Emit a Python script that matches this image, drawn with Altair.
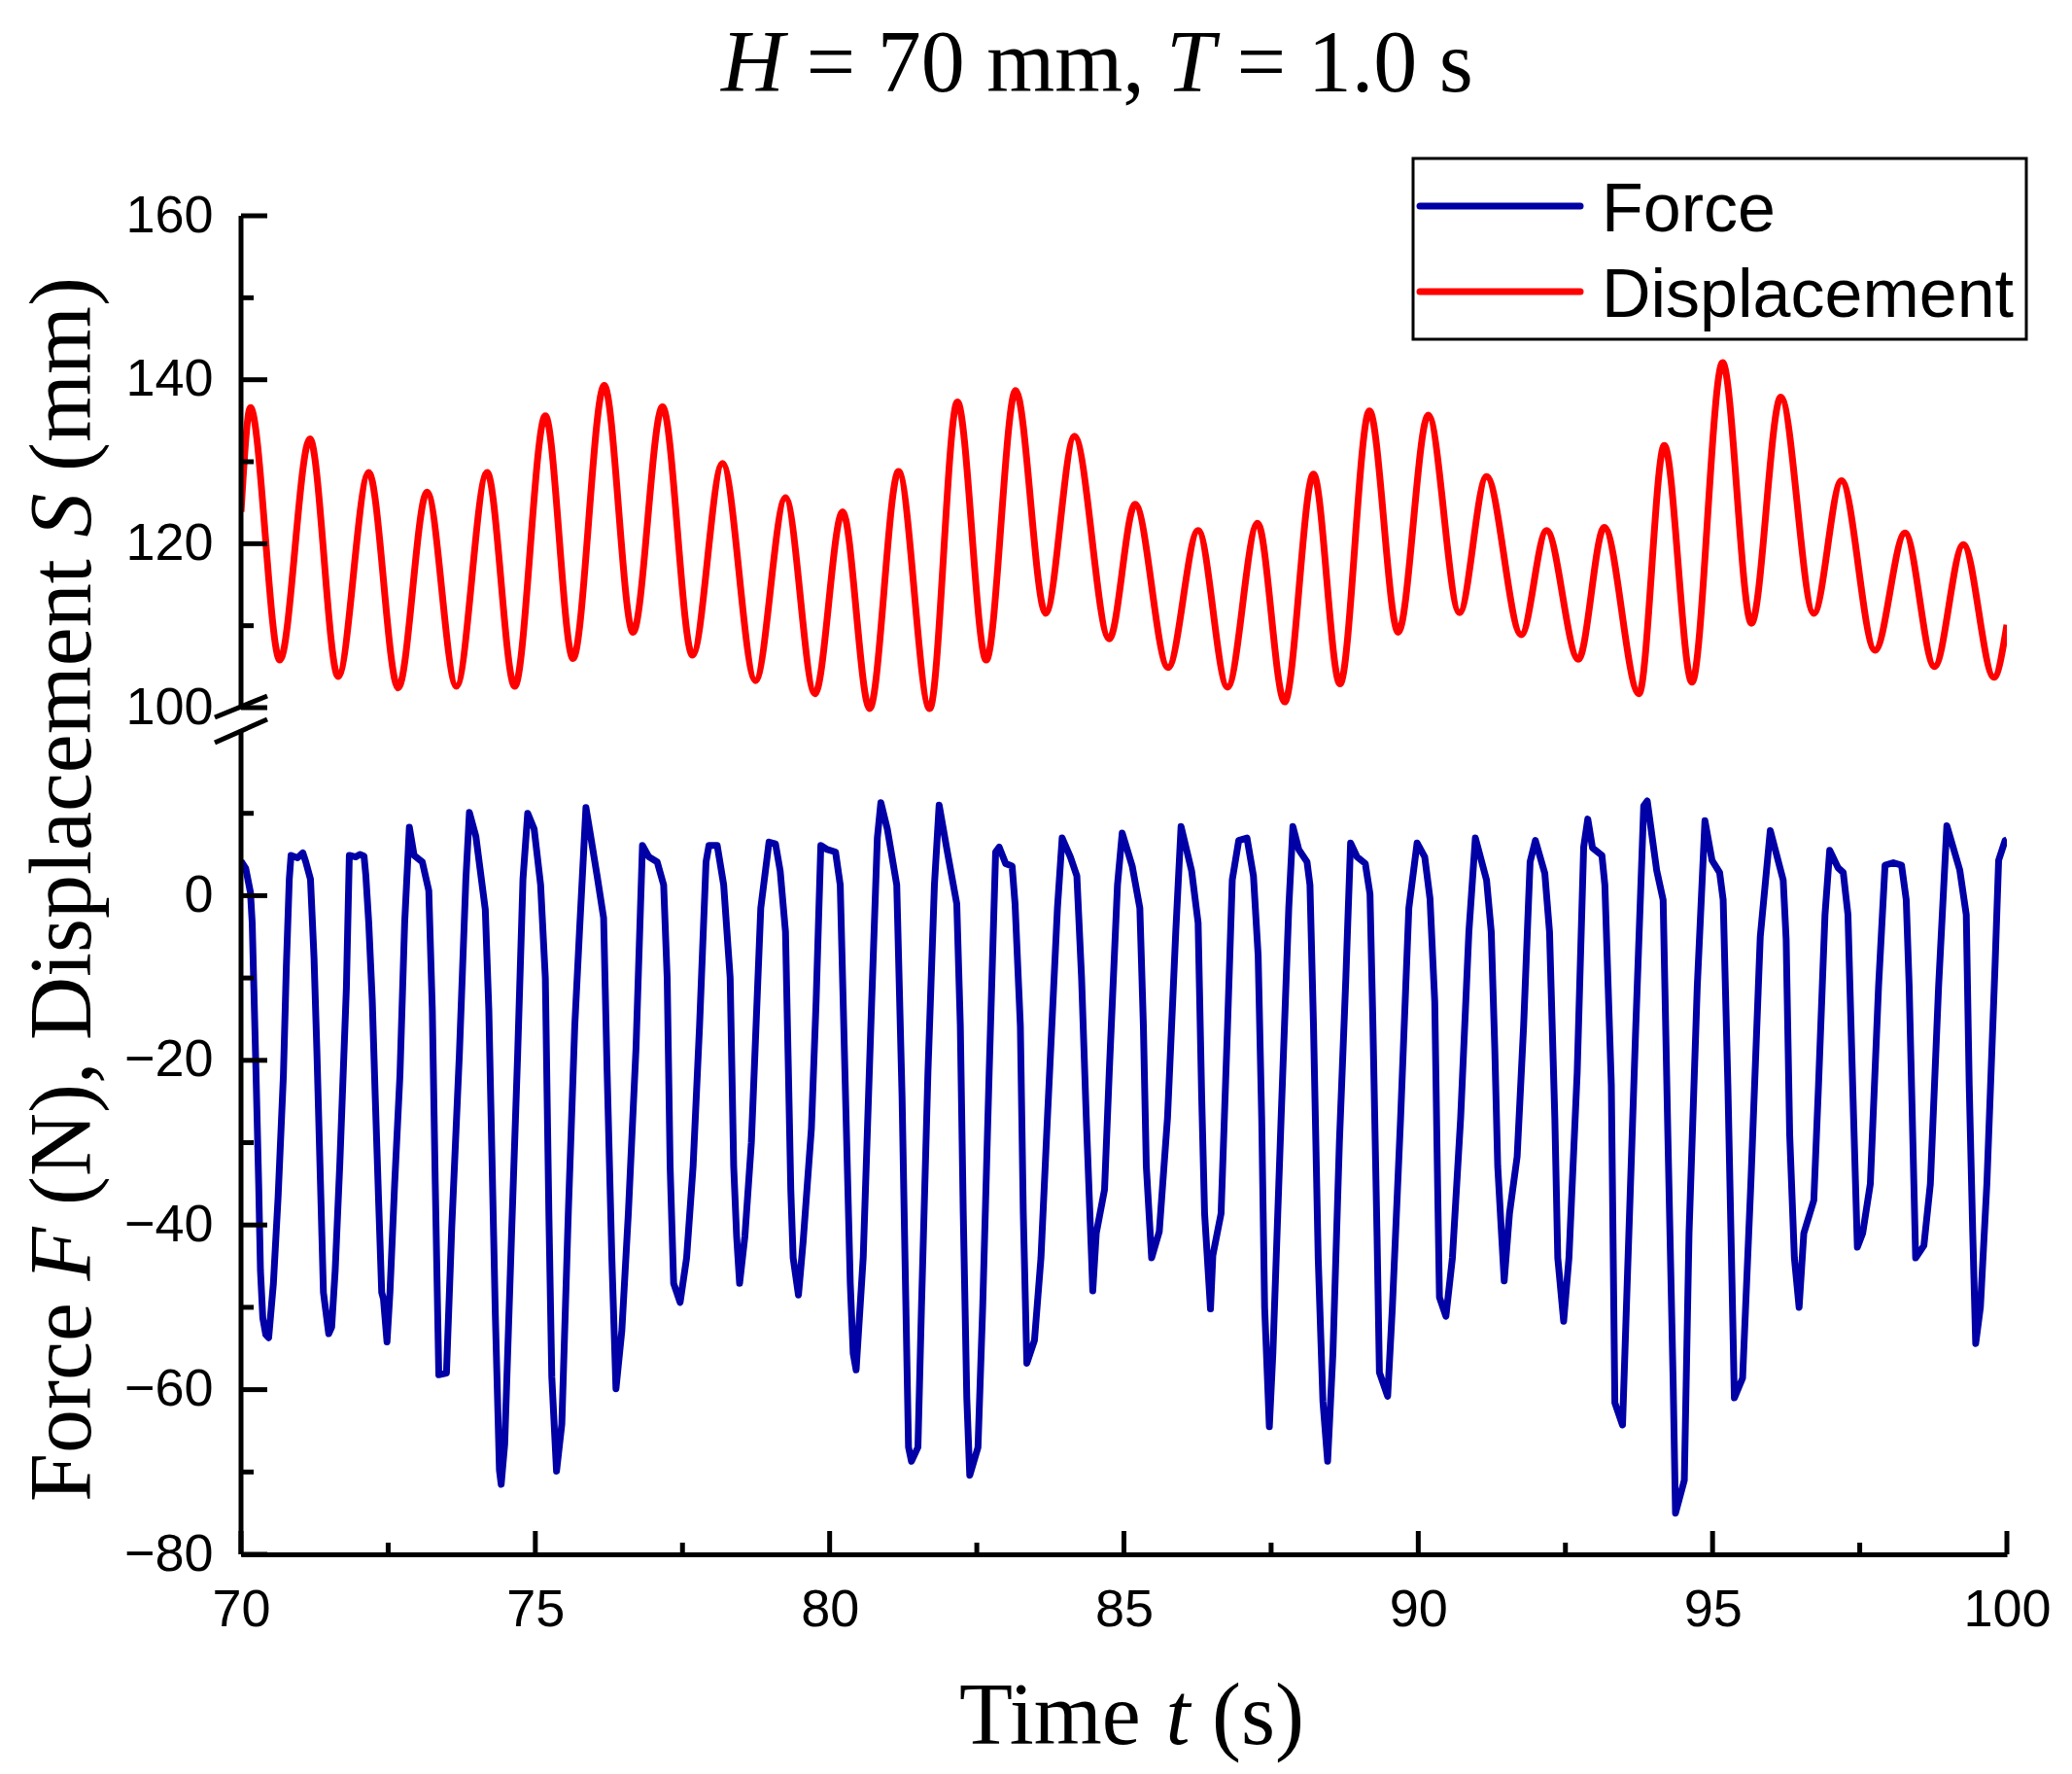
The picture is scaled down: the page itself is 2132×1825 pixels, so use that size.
import altair as alt
import pandas as pd

# ---------------- data ----------------
force_time = [
    70.00, 70.08, 70.16, 70.19, 70.25, 70.30, 70.33, 70.37, 70.42, 70.47, 70.55, 70.63, 70.72, 70.77, 70.82,
    70.85, 70.96, 71.05, 71.10, 71.18, 71.24, 71.29, 71.35, 71.40, 71.49, 71.54, 71.60, 71.68, 71.79,
    71.84, 71.95, 72.02, 72.09, 72.12, 72.17, 72.23, 72.28, 72.34, 72.39, 72.42, 72.48, 72.53, 72.61, 72.70, 72.78,
    72.86, 72.94, 73.08, 73.19, 73.25, 73.30, 73.36, 73.49, 73.58, 73.71, 73.82,
    73.88, 73.99, 74.15, 74.21, 74.32, 74.39, 74.42, 74.48, 74.60, 74.70, 74.79,
    74.87, 74.98, 75.09, 75.17, 75.23, 75.28, 75.36, 75.45, 75.56, 75.67, 75.75,
    75.86, 75.92, 76.05, 76.16, 76.22, 76.30, 76.37, 76.47, 76.58, 76.71,
    76.82, 76.93, 77.07, 77.18, 77.24, 77.29, 77.35, 77.46, 77.57, 77.68, 77.79, 77.90,
    77.95, 78.09, 78.20, 78.31, 78.37, 78.42, 78.47, 78.56, 78.67, 78.83,
    78.97, 79.08, 79.16, 79.25, 79.30, 79.34, 79.38, 79.47, 79.55, 79.69, 79.77,
    79.85, 79.96, 80.10, 80.18, 80.26, 80.35, 80.40, 80.45, 80.57, 80.70,
    80.81, 80.87, 80.98, 81.14, 81.23, 81.28, 81.34, 81.39, 81.50, 81.56, 81.67, 81.78,
    81.86, 82.00, 82.16, 82.22, 82.27, 82.33, 82.38, 82.52, 82.60, 82.71,
    82.82, 82.88, 82.99, 83.10, 83.15, 83.24, 83.29, 83.35, 83.48, 83.59, 83.70, 83.87,
    83.95, 84.09, 84.20, 84.28, 84.36, 84.45, 84.47, 84.53, 84.67, 84.75, 84.89,
    84.97, 85.14, 85.27, 85.33, 85.38, 85.47, 85.60, 85.74, 85.88,
    85.97, 86.15, 86.26, 86.32, 86.37, 86.47, 86.51, 86.65, 86.76, 86.84,
    86.95, 87.09, 87.20, 87.28, 87.34, 87.39, 87.47, 87.53, 87.67, 87.80,
    87.87, 87.97, 88.11, 88.16, 88.22, 88.30, 88.38, 88.46, 88.55, 88.66, 88.77,
    88.85, 88.96, 89.10, 89.18, 89.23, 89.30, 89.34, 89.48, 89.56, 89.70, 89.84,
    89.98, 90.11, 90.20, 90.28, 90.33, 90.36, 90.47, 90.58, 90.72, 90.86,
    90.97, 91.16, 91.24, 91.30, 91.35, 91.46, 91.55, 91.68, 91.79, 91.90,
    91.99, 92.15, 92.23, 92.32, 92.37, 92.47, 92.56, 92.70, 92.81,
    92.88, 92.96, 93.12, 93.17, 93.28, 93.34, 93.47, 93.55, 93.69,
    93.83, 93.89, 94.05, 94.16, 94.24, 94.33, 94.37, 94.52, 94.60, 94.74,
    94.87, 94.99, 95.12, 95.18, 95.26, 95.33, 95.37, 95.51, 95.65, 95.81,
    95.98, 96.20, 96.25, 96.31, 96.39, 96.47, 96.55, 96.72, 96.80, 96.91,
    96.99, 97.13, 97.22, 97.30, 97.38, 97.46, 97.55, 97.68, 97.82,
    97.93, 98.07, 98.21, 98.29, 98.34, 98.45, 98.59, 98.70, 98.84,
    98.98, 99.20, 99.31, 99.36, 99.42, 99.47, 99.55, 99.66, 99.80, 99.86, 99.97, 100.00,
]
force_value = [
    4.2, 3.3, 0.4, -3.3, -20.2, -35.0, -45.5, -51.3, -53.3, -53.7, -47.1, -36.6, -21.8, -8.6, 2.0,
    4.9, 4.6, 5.2, 4.1, 2.0, -7.5, -19.2, -35.0, -48.2, -53.2, -52.4, -45.5, -32.3, -11.2,
    4.9, 4.7, 5.0, 4.8, 2.5, -3.3, -12.8, -24.4, -37.6, -48.2, -49.0, -54.2, -48.2, -35.0, -21.8, -3.3,
    8.3, 4.9, 4.1, 0.6, -13.9, -35.0, -58.2, -58.0, -40.3, -19.2, 2.0,
    10.1, 7.2, -1.7, -13.9, -50.8, -69.8, -71.5, -66.6, -40.3, -19.2, 2.0,
    10.0, 8.1, 1.3, -10.0, -38.6, -58.5, -69.9, -64.2, -38.6, -15.8, -4.4,
    10.7, 8.1, 2.4, -2.7, -21.5, -44.0, -59.9, -52.8, -38.6, -18.6,
    6.1, 4.7, 4.1, 1.3, -10.0, -32.9, -47.1, -49.4, -44.0, -32.9, -15.8, 4.1,
    6.1, 6.1, 1.3, -10.0, -32.9, -41.4, -47.1, -41.4, -30.0, -1.5,
    6.5, 6.3, 3.0, -4.4, -21.5, -35.7, -44.0, -48.5, -42.0, -28.3, -12.9,
    6.1, 5.6, 5.3, 1.3, -21.5, -47.0, -55.6, -57.6, -44.0, -15.8,
    7.0, 11.3, 8.1, 1.3, -24.3, -44.0, -67.0, -68.7, -67.0, -50.0, -21.5, 1.3,
    11.0, 5.3, -1.0, -15.8, -38.6, -61.0, -70.4, -67.0, -50.0, -21.5,
    5.3, 5.9, 3.9, 3.6, -1.0, -15.8, -38.6, -56.8, -54.0, -44.0, -27.0, -1.5,
    7.0, 4.7, 2.4, -10.0, -27.0, -44.0, -48.0, -41.0, -35.7, -21.5, 1.3,
    7.6, 3.6, -1.5, -15.8, -32.9, -44.0, -40.8, -27.0, -4.4,
    8.4, 3.0, -3.3, -24.3, -38.6, -50.2, -43.7, -38.6, -15.8, 1.9,
    6.7, 7.0, 2.4, -7.3, -27.0, -50.0, -64.5, -55.6, -27.0, -1.5,
    8.4, 5.6, 4.1, 1.3, -15.8, -44.0, -61.4, -68.7, -55.6, -30.0, -10.0,
    6.4, 4.7, 3.9, 0.2, -15.8, -41.4, -57.9, -60.8, -50.0, -27.0, -1.5,
    6.4, 4.7, -0.4, -12.9, -35.7, -48.8, -51.1, -44.0, -27.0, -4.4,
    7.0, 1.9, -4.4, -18.6, -32.9, -46.8, -38.6, -31.7, -15.8, 4.1,
    6.7, 2.7, -4.4, -27.0, -44.0, -51.7, -44.0, -21.5, 5.9,
    9.3, 5.8, 4.9, 1.3, -23.0, -61.6, -64.3, -47.0, -17.0,
    10.9, 11.5, 3.1, -0.5, -29.0, -59.0, -75.0, -71.0, -41.0, -11.0,
    9.1, 4.3, 2.8, -0.5, -23.0, -47.0, -61.0, -58.6, -35.0, -5.0,
    7.9, 1.9, -5.3, -29.0, -44.0, -50.0, -41.0, -37.0, -23.0, -2.3,
    5.5, 3.4, 2.8, -2.3, -23.0, -42.7, -41.0, -35.0, -11.0,
    3.7, 4.0, 3.7, -0.5, -11.0, -44.0, -42.5, -35.0, -11.0,
    8.5, 3.1, -2.3, -23.0, -41.0, -54.4, -50.0, -35.0, -8.3, 4.3, 6.7, 6.8,
]

# displacement: start, then alternating crest / trough, then end
disp_time = [
    70.00,
    70.16, 70.66, 71.17, 71.65, 72.17, 72.67, 73.16, 73.66, 74.18, 74.65,
    75.17, 75.64, 76.17, 76.66, 77.16, 77.67, 78.18, 78.74, 79.25, 79.75,
    80.22, 80.68, 81.17, 81.70, 82.17, 82.66, 83.16, 83.67, 84.16, 84.75,
    85.19, 85.75, 86.26, 86.76, 87.27, 87.73, 88.22, 88.67, 89.17, 89.66,
    90.17, 90.70, 91.16, 91.75, 92.18, 92.72, 93.16, 93.75, 94.18, 94.65,
    95.17, 95.66, 96.16, 96.72, 97.19, 97.76, 98.27, 98.77, 99.26, 99.78,
    100.00,
]
disp_value = [
    123.9,
    136.6, 105.8, 132.8, 103.8, 128.7, 102.4, 126.3, 102.6, 128.7, 102.6,
    135.6, 106.0, 139.3, 109.2, 136.7, 106.4, 129.8, 103.3, 125.6, 101.7,
    123.9, 97.0, 128.8, 97.0, 137.3, 105.8, 138.7, 111.5, 133.1, 108.4,
    124.8, 104.9, 121.6, 102.5, 122.5, 100.7, 128.5, 102.9, 136.2, 109.2,
    135.7, 111.6, 128.2, 108.9, 121.6, 105.9, 122.0, 101.7, 132.0, 103.1,
    142.1, 110.3, 137.9, 111.5, 127.7, 107.0, 121.3, 105.0, 119.9, 103.7,
    110.1,
]

x_major = [70, 75, 80, 85, 90, 95, 100]
x_minor = [72.5, 77.5, 82.5, 87.5, 92.5, 97.5]
y_major = [-80, -60, -40, -20, 0, 100, 120, 140, 160]
y_minor = [-70, -50, -30, -10, 10, 110, 130, 150]
y_segments_lo = [-80, 100]
y_segments_hi = [20, 160]
series_names = ["Force", "Displacement"]

assert len(force_time) == len(force_value), (len(force_time), len(force_value))
assert len(disp_time) == len(disp_value), (len(disp_time), len(disp_value))

# ---------------- layout ----------------
W, H = 1817, 1377
BLUE = "#0000A6"
RED = "#FF0000"
SANS = "Liberation Sans"
SERIF = "Liberation Serif"
LW = 7

df_force = pd.DataFrame({"t": force_time, "v": force_value})
df_disp = pd.DataFrame({"t": disp_time, "v": disp_value})
df_xmaj = pd.DataFrame({"v": x_major})
df_xmin = pd.DataFrame({"v": x_minor})
df_ymaj = pd.DataFrame({"v": y_major})
df_ymin = pd.DataFrame({"v": y_minor})
df_seg = pd.DataFrame({"a": y_segments_lo, "b": y_segments_hi})
one = pd.DataFrame({"k": [0]})

xscale = alt.Scale(domain=[70, 100], nice=False, zero=False)
# broken axis: piecewise linear scale, -80..20 below, 100..160 above
yscale = alt.Scale(domain=[-80, 20, 100, 160], range=[H, 530, 506, 0], nice=False, zero=False)

xaxis = alt.Axis(values=x_major, title=None, grid=False, ticks=False, tickSize=0,
                 domain=True, domainColor="black", domainWidth=5,
                 labelFont=SANS, labelFontSize=54, labelColor="black", labelPadding=30,
                 labelFlush=False, labelOverlap=False, labelBound=False)
yaxis = alt.Axis(values=y_major, title=None, grid=False, ticks=False, tickSize=0,
                 domain=False, labelFont=SANS, labelFontSize=54, labelColor="black",
                 labelPadding=29, labelOverlap=False, labelBound=False)

X = lambda f: alt.X(f, type="quantitative", scale=xscale, axis=xaxis)
Y = lambda f: alt.Y(f, type="quantitative", scale=yscale, axis=yaxis)

base_rule = dict(color="black", strokeWidth=5)

y_axis_lines = alt.Chart(df_seg).mark_rule(**base_rule).encode(
    x=alt.value(0), y=Y("a"), y2="b")
y_ticks_major = alt.Chart(df_ymaj).mark_rule(**base_rule).encode(
    x=alt.value(0), x2=alt.value(27), y=Y("v"))
y_ticks_minor = alt.Chart(df_ymin).mark_rule(**base_rule).encode(
    x=alt.value(0), x2=alt.value(13), y=Y("v"))
x_ticks_major = alt.Chart(df_xmaj).mark_rule(**base_rule).encode(
    x=X("v"), y=alt.value(H), y2=alt.value(H - 24))
x_ticks_minor = alt.Chart(df_xmin).mark_rule(**base_rule).encode(
    x=X("v"), y=alt.value(H), y2=alt.value(H - 12))

break1 = alt.Chart(one).mark_rule(**base_rule).encode(
    x=alt.value(-27), x2=alt.value(27), y=alt.value(516), y2=alt.value(494))
break2 = alt.Chart(one).mark_rule(**base_rule).encode(
    x=alt.value(-27), x2=alt.value(27), y=alt.value(542), y2=alt.value(518))

force_line = alt.Chart(df_force).mark_line(color=BLUE, strokeWidth=LW, clip=True,
                                           strokeJoin="round").encode(x=X("t"), y=Y("v"))
disp_line = alt.Chart(df_disp).mark_line(color=RED, strokeWidth=LW, clip=True,
                                         interpolate="monotone").encode(x=X("t"), y=Y("v"))

# legend
leg_box = alt.Chart(one).mark_rect(fill="white", stroke="black", strokeWidth=3).encode(
    x=alt.value(1206), x2=alt.value(1837), y=alt.value(-59), y2=alt.value(127))
leg_l1 = alt.Chart(one).mark_rule(color=BLUE, strokeWidth=LW, strokeCap="round").encode(
    x=alt.value(1213), x2=alt.value(1378), y=alt.value(-10))
leg_l2 = alt.Chart(one).mark_rule(color=RED, strokeWidth=LW, strokeCap="round").encode(
    x=alt.value(1213), x2=alt.value(1378), y=alt.value(78))
leg_t1 = alt.Chart(one).mark_text(align="left", baseline="alphabetic", font=SANS,
                                  fontSize=70, color="black").encode(
    x=alt.value(1400), y=alt.value(16), text=alt.value(series_names[0]))
leg_t2 = alt.Chart(one).mark_text(align="left", baseline="alphabetic", font=SANS,
                                  fontSize=70, color="black").encode(
    x=alt.value(1400), y=alt.value(104), text=alt.value(series_names[1]))


def txt(s, x, y, italic=False, angle=0):
    kw = dict(align="left", baseline="alphabetic", font=SERIF, fontSize=90, color="black")
    if italic:
        kw["fontStyle"] = "italic"
    if angle:
        kw["angle"] = angle
    return alt.Chart(one).mark_text(**kw).encode(
        x=alt.value(x), y=alt.value(y), text=alt.value(s))


title_parts = [
    txt("H", 494, -128, italic=True),
    txt("= 70 mm,", 581.5, -128),
    txt("T", 952, -128, italic=True),
    txt("= 1.0 s", 1024.5, -128),
]
xtitle_parts = [
    txt("Time", 739, 1572),
    txt("t", 951.5, 1572, italic=True),
    txt("(s)", 999, 1572),
]
YT = -155
ytitle_parts = [
    txt("Force", YT, 1323, angle=270),
    txt("F", YT, 1095.5, italic=True, angle=270),
    txt("(N), Displacement", YT, 1018, angle=270),
    txt("S", YT, 330.5, italic=True, angle=270),
    txt("(mm)", YT, 263, angle=270),
]

chart = alt.layer(
    force_line, disp_line,
    y_axis_lines, y_ticks_major, y_ticks_minor, x_ticks_major, x_ticks_minor,
    break1, break2,
    leg_box, leg_l1, leg_l2, leg_t1, leg_t2,
    *title_parts, *xtitle_parts, *ytitle_parts,
).properties(
    width=W, height=H,
    autosize=alt.AutoSizeParams(type="none"),
    padding={"left": 240, "top": 214, "right": 59, "bottom": 218},
    background="white",
).configure_view(stroke=None)

chart.save("out.html", embed_options={"renderer": "svg", "actions": False})
